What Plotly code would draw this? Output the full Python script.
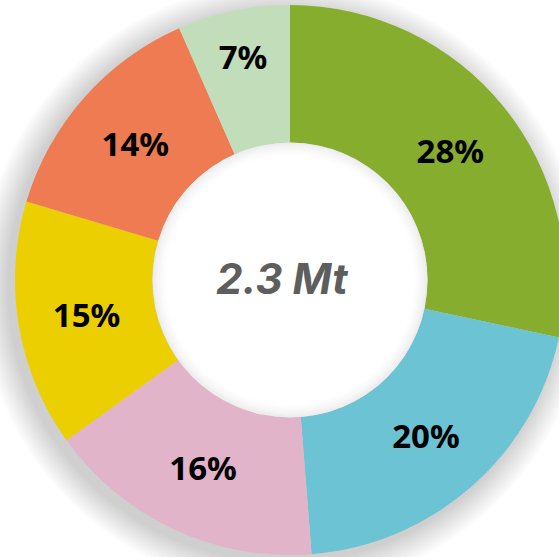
import plotly.graph_objects as go

categories = ["A", "B", "C", "D", "E", "F"]
values = [28.35, 20.4, 16.35, 14.5, 13.8, 6.6]
pct_labels = ["28%", "20%", "16%", "15%", "14%", "7%"]
colors = ["#87ad2e", "#6bc3d4", "#e2b4c9", "#ebcf00", "#ef7b52", "#c2ddba"]
center_label = "2.3 Mt"

W, H = 580, 557
cx, cy, R = 290, 280, 275  # pixel geometry (from top-left)
hole = 0.5

fig = go.Figure(go.Pie(
    labels=categories,
    values=values,
    text=pct_labels,
    textinfo="text",
    texttemplate="%{text}",
    textposition="inside",
    insidetextorientation="horizontal",
    sort=False,
    direction="clockwise",
    rotation=0,
    hole=hole,
    marker=dict(colors=colors, line=dict(width=0)),
    textfont=dict(family="Noto Sans", size=33, color="#000000", weight="bold"),
    domain=dict(x=[0, 1], y=[(H - (cy + R)) / H, (H - (cy - R)) / H]),
    showlegend=False,
    hoverinfo="skip",
))

def px2paper(x, y):
    return x / W, (H - y) / H

def circle(x, y, r, layer, fill, line=None):
    x0, y0 = px2paper(x - r, y - r)
    x1, y1 = px2paper(x + r, y + r)
    return dict(type="circle", xref="paper", yref="paper",
                x0=x0, x1=x1, y0=y1, y1=y0, layer=layer,
                fillcolor=fill, line=line or dict(width=0))

shapes = []
# outer soft drop shadow (below the pie)
sx, sy = cx - 6, cy + 6
for k in range(16):
    shapes.append(circle(sx, sy, R + 2 + k * 1.8, "below", "rgba(0,0,0,0.011)"))
# white hole covering the shadow
rh = R * hole
shapes.append(circle(cx, cy, rh, "above", "white"))
# inner shadow of the hole
for k in range(10):
    r = rh - 0.75 - k * 1.5
    a = 0.07 * (1 - k / 10) ** 1.6
    shapes.append(circle(cx, cy, r, "above", "rgba(0,0,0,0)",
                         dict(width=1.6, color=f"rgba(0,0,0,{a:.3f})")))

_, ty = px2paper(cx, cy - 2)
fig.update_layout(
    width=W, height=H,
    margin=dict(l=0, r=0, t=0, b=0),
    paper_bgcolor="white",
    plot_bgcolor="white",
    shapes=shapes,
    annotations=[dict(
        text=f"<i>{center_label}</i>", x=0.5, y=ty, xref="paper", yref="paper",
        xshift=-8,
        showarrow=False, xanchor="center", yanchor="middle",
        font=dict(family="Inter", size=42, color="#5e5e5e", weight="bold"),
    )],
)

fig.write_html(
    "out.html",
    config={"displayModeBar": False},
    post_script="document.body.style.margin='0';document.body.style.overflow='hidden';document.documentElement.style.overflow='hidden';",
)
